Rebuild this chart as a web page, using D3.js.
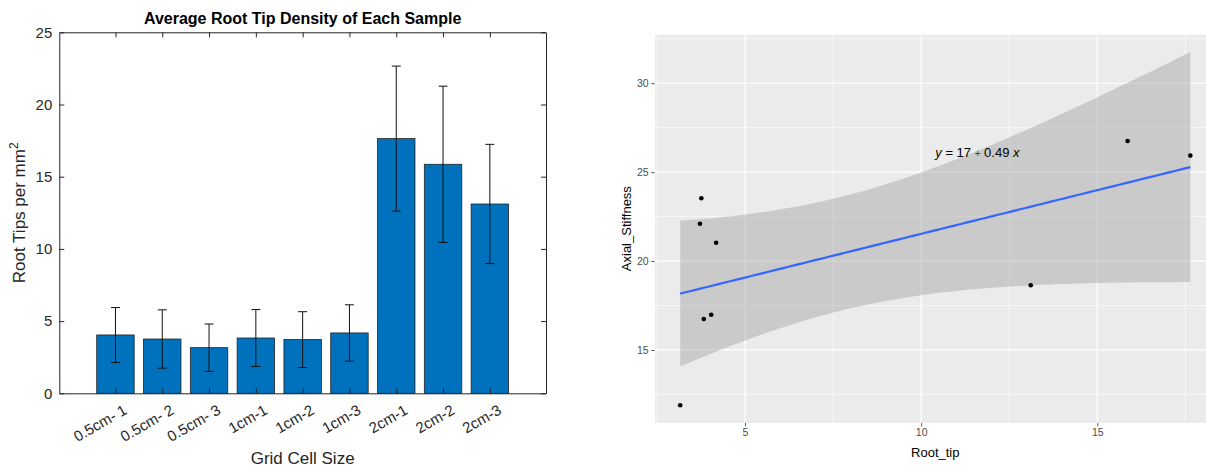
<!DOCTYPE html>
<html>
<head>
<style>
  body { margin: 0; background: #fff; }
  svg { display: block; font-family: "Liberation Sans", Arial, sans-serif; }
</style>
</head>
<body>
<script src="https://d3js.org/d3.v7.min.js"></script>
<svg width="1206" height="467"></svg>
<script>
// ---- data: bar chart ----
var categories = ["0.5cm- 1", "0.5cm- 2", "0.5cm- 3", "1cm-1", "1cm-2", "1cm-3", "2cm-1", "2cm-2", "2cm-3"];
var meanTips = [4.04, 3.76, 3.16, 3.83, 3.72, 4.18, 17.64, 15.86, 13.11];
var errTips = [1.9, 2.02, 1.64, 1.97, 1.93, 1.95, 5.02, 5.41, 4.13];
var barTicks = [0, 5, 10, 15, 20, 25];

// ---- data: scatter ----
var rootTip = [4.04, 3.76, 3.16, 3.83, 3.72, 4.18, 17.64, 15.86, 13.11];
var axialStiffness = [16.98, 23.53, 11.89, 16.74, 22.1, 21.03, 25.93, 26.75, 18.64];
var scatterXTicks = [5, 10, 15];
var scatterYTicks = [15, 20, 25, 30];
var tCrit = 2.3646; // t(0.975, df = 7)

var svg = d3.select("svg");

// =============== left: MATLAB style bar chart ===============
var L = {left: 59.3, right: 546, top: 32.3, bottom: 393.3};
var x = d3.scaleLinear().domain([-0.2, 10.2]).range([L.left, L.right]);
var y = d3.scaleLinear().domain([0, 25]).range([L.bottom, L.top]);
var axisCol = "#262626";

var left = svg.append("g");

left.selectAll("rect.bar")
    .data(meanTips)
    .enter().append("rect")
    .attr("class", "bar")
    .attr("x", function(d, i) { return x(i + 1 - 0.4); })
    .attr("width", x(0.8) - x(0))
    .attr("y", function(d) { return y(d); })
    .attr("height", function(d) { return y(0) - y(d); })
    .attr("fill", "#0072BD")
    .attr("stroke", "#222")
    .attr("stroke-width", 0.8);

// error bars
var eb = left.selectAll("g.err")
    .data(meanTips)
    .enter().append("g")
    .attr("class", "err")
    .attr("stroke", "#111")
    .attr("stroke-width", 1);
eb.append("line")
    .attr("x1", function(d, i) { return x(i + 1); })
    .attr("x2", function(d, i) { return x(i + 1); })
    .attr("y1", function(d, i) { return y(d - errTips[i]); })
    .attr("y2", function(d, i) { return y(d + errTips[i]); });
[-1, 1].forEach(function(s) {
    eb.append("line")
        .attr("x1", function(d, i) { return x(i + 1) - 4.5; })
        .attr("x2", function(d, i) { return x(i + 1) + 4.5; })
        .attr("y1", function(d, i) { return y(d + s * errTips[i]); })
        .attr("y2", function(d, i) { return y(d + s * errTips[i]); });
});

// axes (ticks inward, box)
var idx = d3.range(1, categories.length + 1);
function styleAxis(g) {
    g.selectAll("path, line").attr("stroke", axisCol).attr("stroke-width", 1);
    g.selectAll("text").attr("fill", axisCol).attr("font-size", "15px");
}
left.append("g")
    .attr("transform", "translate(" + L.left + ",0)")
    .call(d3.axisLeft(y).tickValues(barTicks).tickSize(-5).tickPadding(7).tickSizeOuter(0))
    .call(styleAxis)
    .call(function(g) { g.selectAll("text").attr("font-family", "Liberation Sans, Arial"); });
left.append("g")
    .attr("transform", "translate(" + L.right + ",0)")
    .call(d3.axisRight(y).tickValues(barTicks).tickSize(-5).tickSizeOuter(0).tickFormat(""))
    .call(styleAxis);
left.append("g")
    .attr("transform", "translate(0," + L.top + ")")
    .call(d3.axisTop(x).tickValues(idx).tickSize(-5).tickSizeOuter(0).tickFormat(""))
    .call(styleAxis);
left.append("g")
    .attr("transform", "translate(0," + L.bottom + ")")
    .call(d3.axisBottom(x).tickValues(idx).tickSize(-5).tickSizeOuter(0).tickFormat(""))
    .call(styleAxis);

// rotated category labels
left.selectAll("text.cat")
    .data(categories)
    .enter().append("text")
    .attr("class", "cat")
    .attr("transform", function(d, i) { return "translate(" + (x(i + 1) + 7) + "," + (L.bottom + 10) + ") rotate(-30)"; })
    .attr("text-anchor", "end")
    .attr("dominant-baseline", "hanging")
    .attr("font-size", "15px")
    .attr("fill", axisCol)
    .text(function(d) { return d; });

left.append("text")
    .attr("x", (L.left + L.right) / 2)
    .attr("y", 24)
    .attr("text-anchor", "middle")
    .attr("font-size", "16px")
    .attr("font-weight", "bold")
    .attr("fill", "#000")
    .text("Average Root Tip Density of Each Sample");

var yl = left.append("text")
    .attr("transform", "translate(25," + (L.top + L.bottom) / 2 + ") rotate(-90)")
    .attr("text-anchor", "middle")
    .attr("font-size", "17px")
    .attr("fill", axisCol);
yl.append("tspan").text("Root Tips per mm");
yl.append("tspan").attr("font-size", "12px").attr("dy", "-7").text("2");

left.append("text")
    .attr("x", (L.left + L.right) / 2)
    .attr("y", 464)
    .attr("text-anchor", "middle")
    .attr("font-size", "17px")
    .attr("fill", axisCol)
    .text("Grid Cell Size");

// =============== right: ggplot style scatter + lm ===============
var n = rootTip.length;
var mx = d3.mean(rootTip), my = d3.mean(axialStiffness);
var sxx = d3.sum(rootTip, function(v) { return (v - mx) * (v - mx); });
var sxy = d3.sum(rootTip, function(v, i) { return (v - mx) * (axialStiffness[i] - my); });
var slope = sxy / sxx, icpt = my - slope * mx;
var sse = d3.sum(rootTip, function(v, i) { var r = axialStiffness[i] - (icpt + slope * v); return r * r; });
var sRes = Math.sqrt(sse / (n - 2));
var xExt = d3.extent(rootTip);
var fit = d3.range(0, 81).map(function(k) {
    var xv = xExt[0] + (xExt[1] - xExt[0]) * k / 80;
    var yv = icpt + slope * xv;
    var hw = tCrit * sRes * Math.sqrt(1 / n + (xv - mx) * (xv - mx) / sxx);
    return {x: xv, y: yv, lo: yv - hw, hi: yv + hw};
});

function expand(ext) { var d = (ext[1] - ext[0]) * 0.05; return [ext[0] - d, ext[1] + d]; }
var yAll = axialStiffness.concat(fit.map(function(d) { return d.lo; }), fit.map(function(d) { return d.hi; }));

var P = {left: 654.7, top: 34.4, bottom: 422.9};
var xDom = expand(xExt);
var xs = d3.scaleLinear().domain(xDom).range([P.left, P.left + 35.23 * (xDom[1] - xDom[0])]);
var ys = d3.scaleLinear().domain(expand(d3.extent(yAll))).range([P.bottom, P.top]);
var P_right = xs.range()[1];

var right = svg.append("g");
right.append("clipPath").attr("id", "panel")
    .append("rect").attr("x", P.left).attr("y", P.top).attr("width", P_right - P.left).attr("height", P.bottom - P.top);
var panel = right.append("g").attr("clip-path", "url(#panel)");
panel.append("rect")
    .attr("x", P.left).attr("y", P.top)
    .attr("width", P_right - P.left).attr("height", P.bottom - P.top)
    .attr("fill", "#EBEBEB");

var minorX = [2.5, 7.5, 12.5, 17.5], minorY = [12.5, 17.5, 22.5, 27.5, 32.5];
panel.selectAll("line.mx").data(minorX).enter().append("line")
    .attr("x1", xs).attr("x2", xs).attr("y1", P.top).attr("y2", P.bottom)
    .attr("stroke", "#fff").attr("stroke-width", 0.6);
panel.selectAll("line.my").data(minorY).enter().append("line")
    .attr("y1", ys).attr("y2", ys).attr("x1", P.left).attr("x2", P_right)
    .attr("stroke", "#fff").attr("stroke-width", 0.6);
panel.selectAll("line.gx").data(scatterXTicks).enter().append("line")
    .attr("x1", xs).attr("x2", xs).attr("y1", P.top).attr("y2", P.bottom)
    .attr("stroke", "#fff").attr("stroke-width", 1.2);
panel.selectAll("line.gy").data(scatterYTicks).enter().append("line")
    .attr("y1", ys).attr("y2", ys).attr("x1", P.left).attr("x2", P_right)
    .attr("stroke", "#fff").attr("stroke-width", 1.2);

panel.append("path")
    .datum(fit)
    .attr("d", d3.area().x(function(d) { return xs(d.x); }).y0(function(d) { return ys(d.lo); }).y1(function(d) { return ys(d.hi); }))
    .attr("fill", "#999999")
    .attr("fill-opacity", 0.4);

panel.append("path")
    .datum(fit)
    .attr("d", d3.line().x(function(d) { return xs(d.x); }).y(function(d) { return ys(d.y); }))
    .attr("fill", "none")
    .attr("stroke", "#3366FF")
    .attr("stroke-width", 2.2);

panel.selectAll("circle")
    .data(rootTip)
    .enter().append("circle")
    .attr("cx", function(d) { return xs(d); })
    .attr("cy", function(d, i) { return ys(axialStiffness[i]); })
    .attr("r", 2.3)
    .attr("fill", "#000");

// equation label
var eq = panel.append("text")
    .attr("x", xs(10.4))
    .attr("y", ys(25.85))
    .attr("font-size", "13px")
    .attr("fill", "#000");
eq.append("tspan").attr("font-style", "italic").text("y");
eq.append("tspan").text(" = 17 ");
eq.append("tspan").attr("font-size", "10px").attr("fill", "#444").text("+");
eq.append("tspan").text(" 0.49 ");
eq.append("tspan").attr("font-style", "italic").text("x");

// ggplot axes
function ggAxis(g) {
    g.select(".domain").remove();
    g.selectAll("line").attr("stroke", "#333").attr("stroke-width", 0.8);
    g.selectAll("text").attr("fill", "#4D4D4D").attr("font-size", "10.5px");
}
right.append("g")
    .attr("transform", "translate(" + P.left + ",0)")
    .call(d3.axisLeft(ys).tickValues(scatterYTicks).tickSize(3.5).tickPadding(2.5))
    .call(ggAxis);
right.append("g")
    .attr("transform", "translate(0," + P.bottom + ")")
    .call(d3.axisBottom(xs).tickValues(scatterXTicks).tickSize(3.5).tickPadding(2.5))
    .call(ggAxis);

right.append("text")
    .attr("x", (P.left + P_right) / 2)
    .attr("y", 457)
    .attr("text-anchor", "middle")
    .attr("font-size", "13px")
    .attr("fill", "#000")
    .text("Root_tip");
right.append("text")
    .attr("transform", "translate(631," + (P.top + P.bottom) / 2 + ") rotate(-90)")
    .attr("text-anchor", "middle")
    .attr("font-size", "13px")
    .attr("fill", "#000")
    .text("Axial_Stiffness");
</script>
</body>
</html>
